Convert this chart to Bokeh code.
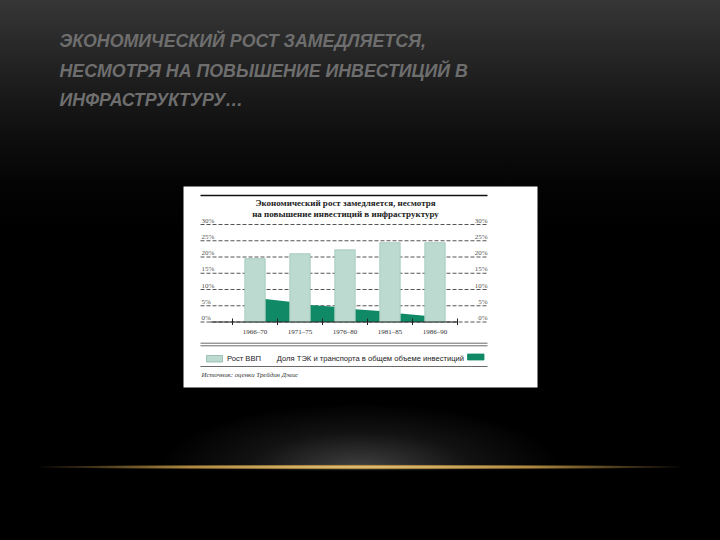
from bokeh.plotting import figure
from bokeh.models import Range1d, GlobalInlineStyleSheet
from bokeh.core.properties import value
from bokeh.embed import file_html
from bokeh.resources import INLINE

# ---------------- data ----------------
periods = ["1966–70", "1971–75", "1976–80", "1981–85", "1986–90"]
gdp_growth = [19.5, 21.0, 22.2, 24.4, 24.4]          # Рост ВВП, %
# Доля ТЭК и транспорта: value at the left and right edge of each visible stretch
share_start = [7.1, 5.2, 3.9, 2.6]
share_end = [6.2, 4.7, 3.4, 1.9]
y_ticks = [0, 5, 10, 15, 20, 25, 30]
y_tick_labels = ["0%", "5%", "10%", "15%", "20%", "25%", "30%"]
series_names = ["Рост ВВП", "Доля ТЭК и транспорта в общем объеме инвестиций"]
chart_title = ["Экономический рост замедляется, несмотря",
               "на повышение инвестиций в инфраструктуру"]
slide_title = ["ЭКОНОМИЧЕСКИЙ РОСТ ЗАМЕДЛЯЕТСЯ,",
               "НЕСМОТРЯ НА ПОВЫШЕНИЕ ИНВЕСТИЦИЙ В",
               "ИНФРАСТРУКТУРУ…"]
source_note = "Источник: оценки Трейдин Дэвис"

# ---------------- layout (slide pixels) ----------------
W, H = 704, 524
BOX_L, BOX_R, BOX_T, BOX_B = 183, 537, 186, 387
X0_PX, DX_PX = 254.5, 45.0       # first category centre, pitch
Y0_PX, DY_PX = 321.5, 3.25       # 0% line, px per percent
BAR_W = 20.4 / DX_PX

def X(px):
    return (px - X0_PX) / DX_PX

def Y(py):
    return (Y0_PX - py) / DY_PX

LIGHT = "#bcdacf"
DARK = "#108a66"
SERIF = value("Liberation Serif")
SANS = value("Liberation Sans")

css = """
html {
  background-color: #000;
  background-image:
    radial-gradient(ellipse 330px 2.6px at 360px 467px, rgba(240,210,130,1) 0%, rgba(205,160,75,0.85) 55%, rgba(120,90,40,0) 100%),
    linear-gradient(to bottom, rgba(0,0,0,0) 0px, rgba(0,0,0,0) 468px, #000 471px, #000 540px),
    radial-gradient(ellipse 200px 65px at 360px 468px, rgba(80,80,80,0.8) 0%, rgba(40,40,40,0.45) 55%, rgba(0,0,0,0) 100%),
    linear-gradient(to bottom, #363636 0px, #242424 60px, #111 125px, #040404 185px, #000 230px);
  background-repeat: no-repeat;
  background-size: 720px 540px;
}
body { background: transparent; }
"""

p = figure(width=W, height=H, output_backend="svg", toolbar_location=None,
           x_range=Range1d(X(0), X(W)), y_range=Range1d(Y(H), Y(0)),
           x_axis_location=None, y_axis_location=None, title_location=None,
           tools="", min_border=0)
p.background_fill_color = None
p.border_fill_color = None
p.outline_line_color = None
p.grid.visible = False
p.stylesheets = [GlobalInlineStyleSheet(css=css)]

# slide title
p.text(x=X(59), y=[Y(40.5), Y(70), Y(99.5)], text=slide_title, text_align="left",
       text_baseline="alphabetic", text_font=SANS,
       text_font_size="17.8px", text_font_style="bold italic", text_color="#6e6e6e")

# white chart card
p.quad(left=X(BOX_L), right=X(BOX_R), bottom=Y(BOX_B), top=Y(BOX_T),
       fill_color="white", line_color=None)

# top rule and chart title
p.segment(x0=X(200), x1=X(487), y0=Y(195), y1=Y(195), line_color="#111", line_width=1.5)
p.text(x=X(345), y=[Y(202), Y(213)], text=chart_title, text_align="center",
       text_baseline="middle", text_font=SERIF, text_font_size="9px",
       text_font_style="bold", text_color="#222")

# gridlines
p.segment(x0=X(200), x1=X(487), y0=y_ticks, y1=y_ticks, line_color="#555",
          line_width=1, line_dash="4 2")

# tick labels left and right
p.text(x=X(201), y=y_ticks, text=y_tick_labels, text_align="left", text_baseline="bottom",
       text_font=SERIF, text_font_size="7px", text_color="#555")
p.text(x=X(487), y=y_ticks, text=y_tick_labels, text_align="right", text_baseline="bottom",
       text_font=SERIF, text_font_size="7px", text_color="#555")

# investment share area (visible between bars)
idx = list(range(len(periods)))
xs = [[i + BAR_W / 2, i + 1 - BAR_W / 2, i + 1 - BAR_W / 2, i + BAR_W / 2]
      for i in range(len(share_start))]
ys = [[s, e, 0, 0] for s, e in zip(share_start, share_end)]
p.patches(xs, ys, fill_color=DARK, line_color=None)

# GDP growth bars
p.vbar(x=idx, top=gdp_growth, bottom=0, width=BAR_W, fill_color=LIGHT,
       line_color="#9fc6b8", line_width=0.8)

# axis line and ticks
p.segment(x0=X(210), x1=X(457), y0=0, y1=0, line_color="#222", line_width=1)
bounds = [i - 0.5 for i in range(len(periods) + 1)]
p.segment(x0=bounds, x1=bounds, y0=Y(318), y1=Y(324.5), line_color="#222", line_width=1)

# category labels
p.text(x=idx, y=Y(331), text=periods, text_align="center", text_baseline="middle",
       text_font=SERIF, text_font_size="7px", text_color="#333")

# separators
sep = [Y(342.7), Y(345.3), Y(366)]
p.segment(x0=X(200), x1=X(487), y0=sep, y1=sep, line_color="#444", line_width=0.8)

# legend
p.quad(left=[X(206), X(467)], right=[X(222), X(483.5)],
       bottom=[Y(361.5), Y(359.5)], top=[Y(355), Y(353.5)],
       fill_color=[LIGHT, DARK], line_color=["#8fb8a9", DARK], line_width=0.8)
p.text(x=X(226.5), y=Y(358.3), text=[series_names[0]], text_align="left",
       text_baseline="middle", text_font=SANS, text_font_size="7.6px", text_color="#222")
p.text(x=X(463.5), y=Y(358.3), text=[series_names[1]], text_align="right",
       text_baseline="middle", text_font=SANS, text_font_size="7.6px", text_color="#222")

# source
p.text(x=X(201), y=Y(374), text=[source_note], text_align="left", text_baseline="middle",
       text_font=SERIF, text_font_size="6.8px", text_font_style="italic", text_color="#333")

open("out.html", "w").write(file_html(p, INLINE))
